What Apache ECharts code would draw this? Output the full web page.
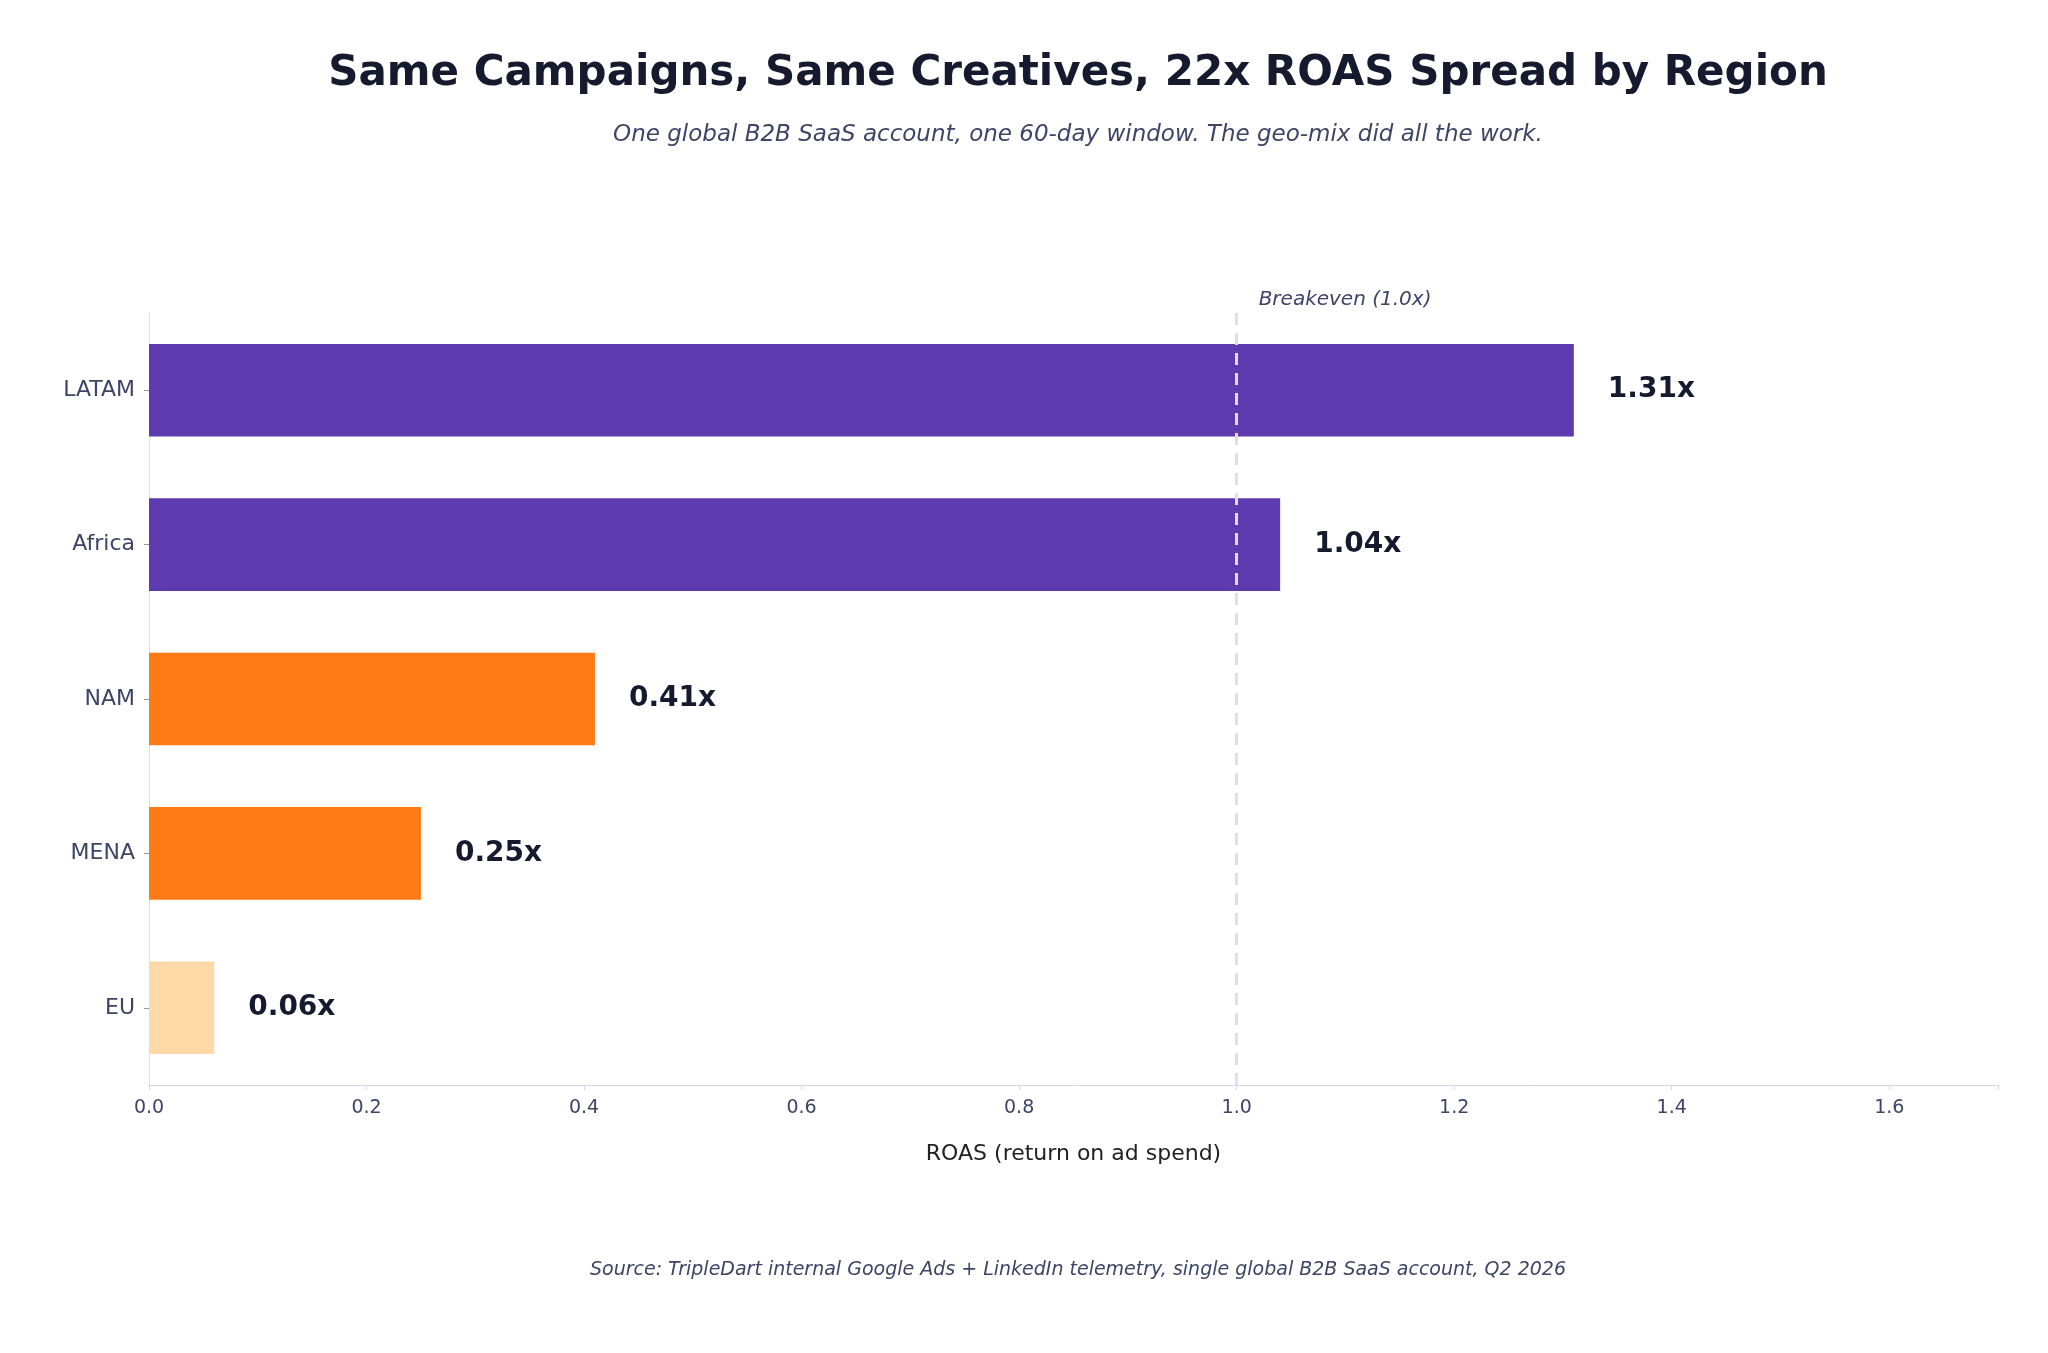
<!DOCTYPE html>
<html><head><meta charset="utf-8">
<script src="https://cdn.jsdelivr.net/npm/echarts@6/dist/echarts.min.js"></script>
<style>html,body{margin:0;padding:0;background:#fff}#c{width:2048px;height:1353px}</style>
</head><body><div id="c"></div>
<script>
const categories = ['EU', 'MENA', 'NAM', 'Africa', 'LATAM'];
const roasValues = [0.06, 0.25, 0.41, 1.04, 1.31];
const barColors = ['#FFD8A8', '#FF7A14', '#FF7A14', '#5E3AAF', '#5E3AAF'];
const breakeven = 1.0;
const F = 'DejaVu Sans';
const chart = echarts.init(document.getElementById('c'));
chart.setOption({
  backgroundColor: '#ffffff',
  textStyle: { fontFamily: F },
  title: [
    { text: 'Same Campaigns, Same Creatives, 22x ROAS Spread by Region', left: 1073, top: 48, textAlign: 'center',
      textStyle: { fontFamily: F, fontSize: 42, fontWeight: 'bold', color: '#151a2e' } },
    { text: 'One global B2B SaaS account, one 60-day window. The geo-mix did all the work.', left: 1073, top: 119, textAlign: 'center',
      textStyle: { fontFamily: F, fontSize: 23, fontStyle: 'italic', fontWeight: 'normal', color: '#3d4466' } },
    { text: 'Source: TripleDart internal Google Ads + LinkedIn telemetry, single global B2B SaaS account, Q2 2026', left: 1073, top: 1256, textAlign: 'center',
      textStyle: { fontFamily: F, fontSize: 19, fontStyle: 'italic', fontWeight: 'normal', color: '#3d4466' } }
  ],
  grid: { left: 149, right: 50, top: 313, bottom: 268 },
  xAxis: {
    type: 'value', min: 0, max: 1.7, interval: 0.2,
    name: 'ROAS (return on ad spend)', nameLocation: 'middle', nameGap: 58,
    nameTextStyle: { fontSize: 22, color: '#222' },
    axisLabel: { fontSize: 19, color: '#3d4466', margin: 14, formatter: v => v > 1.65 ? '' : v.toFixed(1) },
    axisLine: { show: true, lineStyle: { color: '#d8d4ee' } },
    axisTick: { show: true, lineStyle: { color: '#d8d4ee' } },
    splitLine: { show: false }
  },
  yAxis: {
    type: 'category', data: categories,
    axisLabel: { fontSize: 22, color: '#3d4466', margin: 14 },
    axisLine: { lineStyle: { color: '#e4e0f4' } },
    axisTick: { show: true, alignWithLabel: true, lineStyle: { color: '#999' } }
  },
  series: [{
    type: 'bar', barWidth: '60%',
    data: roasValues.map((v, i) => ({ value: v, itemStyle: { color: barColors[i] } })),
    label: { show: true, position: 'right', distance: 34, fontSize: 28, fontWeight: 'bold', color: '#151a2e',
      formatter: p => p.value.toFixed(2) + 'x' },
    markLine: {
      silent: true, symbol: 'none',
      lineStyle: { type: [12, 8], color: '#e0ddf0', width: 3 },
      label: { show: false },
      data: [{ xAxis: breakeven }]
    }
  }]
});
const px = chart.convertToPixel({ xAxisIndex: 0 }, breakeven);
chart.setOption({ graphic: [{ type: 'text', left: px + 22, top: 290,
  style: { text: 'Breakeven (1.0x)', font: 'italic 20px "DejaVu Sans"', fill: '#3d4466' } }] });
</script></body></html>
